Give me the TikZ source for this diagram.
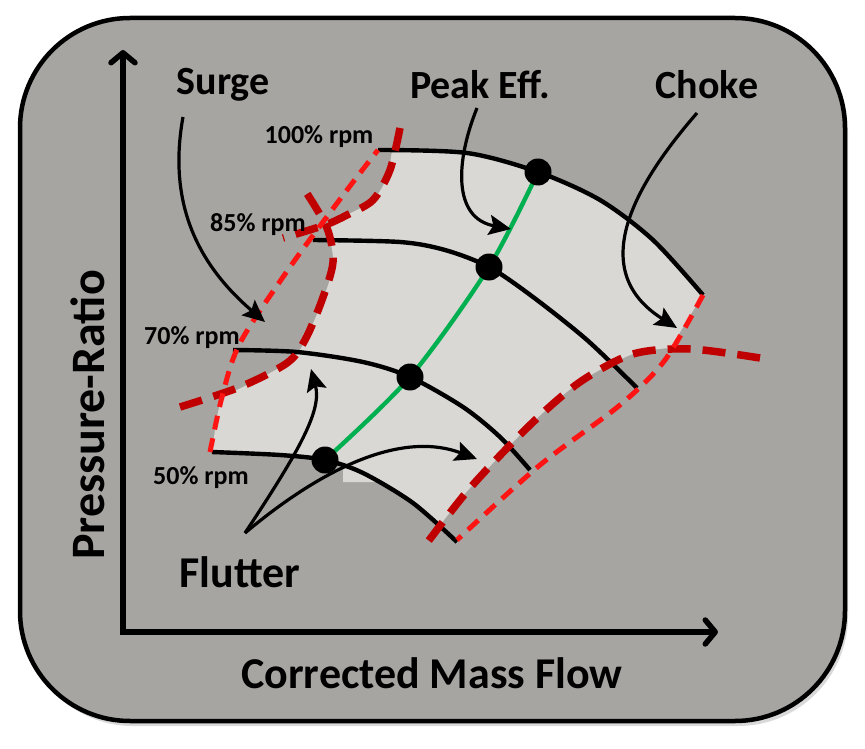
\documentclass[tikz,border=0pt]{standalone}
\usepackage{fontspec}
\setmainfont{Carlito}
\usetikzlibrary{arrows.meta}

\definecolor{mapgray}{RGB}{166,165,161}
\definecolor{zonegray}{RGB}{217,216,213}
\definecolor{surgered}{RGB}{255,20,20}
\definecolor{limitred}{RGB}{192,0,0}
\definecolor{effgreen}{RGB}{0,176,80}

\begin{document}
\begin{tikzpicture}[x=1pt, y=-1pt,
  rpmline/.style={line width=4.4pt},
  brightdash/.style={surgered, line width=5pt, dash pattern=on 14pt off 9pt},
  darkdash/.style={limitred, line width=7.5pt, dash pattern=on 23pt off 12pt},
  pointer/.style={line width=3.2pt, -{Stealth[length=22pt,width=20pt,inset=4pt]}},
  axisline/.style={line width=5.5pt, {Straight Barb[length=10pt,width=24pt,round]}-{Straight Barb[length=10pt,width=24pt,round]}},
  biglabel/.style={font=\fontsize{40}{40}\selectfont\bfseries},
  axislabel/.style={font=\fontsize{44}{44}\selectfont\bfseries},
  rpmlabel/.style={font=\fontsize{26}{26}\selectfont\bfseries},
  opdot/.style={circle, fill=black, inner sep=0pt, minimum size=27pt}]
  \useasboundingbox (0,0) rectangle (865,749);
  % frame
  \fill[black!15, rounded corners=110pt] (23,22) rectangle (848,726);
  \draw[line width=4.5pt, fill=mapgray, rounded corners=110pt] (20,18) rectangle (845,721);
  % stable zone
  \fill[zonegray] (392,150) -- plot[smooth] coordinates {(392,150) (467,153) (538,172) (600,200) (653,240) (703,295)}
    -- plot[smooth] coordinates {(703,295) (686,322) (671,348)}
    -- plot[smooth] coordinates {(671,348) (633,354) (580,382) (530,425) (470,488) (441,524)}
    -- (413,503) -- (378,482) -- (343,482) -- (343,467) -- (325,460)
    -- plot[smooth] coordinates {(325,460) (280,455) (212,452)}
    -- plot[smooth] coordinates {(212,452) (217,417) (222,397)}
    -- plot[smooth] coordinates {(222,397) (257,380) (287,363) (300,350) (320,307) (333,267) (330,240) (325,225)}
    -- plot[smooth] coordinates {(325,225) (347,215) (373,200) (387,177) (392,150)} -- cycle;
  % axes
  \coordinate (origin) at (123,632);
  \coordinate (ytop) at (123,50);
  \coordinate (xend) at (718,632);
  \draw[axisline] (ytop) -- (origin) -- (xend);
  % peak efficiency points
  \coordinate (e100) at (538,172);
  \coordinate (e85) at (489,267);
  \coordinate (e70) at (410,377);
  \coordinate (e50) at (325,460);
  % speed lines
  \draw[rpmline] plot[smooth] coordinates {(378,150) (467,153) (e100) (600,200) (653,240) (703,295)};
  \draw[rpmline] plot[smooth] coordinates {(313,240) (400,242) (445,250) (e85) (533,297) (587,340) (637,388)};
  \draw[rpmline] plot[smooth] coordinates {(233,350) (297,352) (363,362) (e70) (463,407) (500,437) (530,470)};
  \draw[rpmline] plot[smooth] coordinates {(212,452) (280,455) (e50) (363,473) (413,503) (457,542)};
  \draw[effgreen, line width=4.4pt] plot[smooth] coordinates {(e50) (e70) (e85) (e100)};
  % surge and choke limits
  \draw[darkdash] plot[smooth] coordinates {(180,407) (240,387) (287,363) (305,340) (322,300) (333,262) (327,228) (306,192)};
  \draw[darkdash] plot[smooth] coordinates {(400,128) (390,170) (373,200) (347,215) (325,225) (283,238)};
  \draw[darkdash] plot[smooth] coordinates {(760,358) (690,349) (633,354) (580,382) (530,425) (470,488) (427,543)};
  \draw[brightdash] plot[smooth] coordinates {(210,452) (222,397) (240,343) (290,267) (347,190) (378,150)};
  \draw[brightdash] plot[smooth] coordinates {(703,295) (665,360) (620,405) (540,465) (457,540)};
  \foreach \p in {100,85,70,50}
    \node[opdot] (d\p) at (e\p) {};
  % labels
  \node[biglabel] (surge) at (223,85) {Surge};
  \node[biglabel] (peak) at (480,85) {Peak Eff.};
  \node[biglabel] (choke) at (707,85) {Choke};
  \node[axislabel] (flutter) at (240,572) {Flutter};
  \node[axislabel] (xlabel) at (432,673) {Corrected Mass Flow};
  \node[axislabel, font=\fontsize{48}{48}\selectfont\bfseries, rotate=90] (ylabel) at (88,415) {Pressure-Ratio};
  \node[rpmlabel] (l100) at (319,137) {100\% rpm};
  \node[rpmlabel] (l85) at (258,225) {85\% rpm};
  \node[rpmlabel] (l70) at (192,338) {70\% rpm};
  \node[rpmlabel] (l50) at (201,478) {50\% rpm};
  % pointers
  \coordinate (surgetail) at (183,117);
  \coordinate (surgehead) at (265,322);
  \coordinate (peaktail) at (477,108);
  \coordinate (peakhead) at (511,229);
  \coordinate (choketail) at (697,113);
  \coordinate (chokehead) at (677,328);
  \coordinate (fluttertail) at (245,533);
  \coordinate (flutterup) at (311,369);
  \coordinate (flutterright) at (477,459);
  \draw[pointer] (surgetail) .. controls (168,200) and (195,262) .. (surgehead);
  \draw[pointer] (peaktail) .. controls (456,160) and (452,218) .. (peakhead);
  \draw[pointer] (choketail) .. controls (630,190) and (588,272) .. (chokehead);
  \draw[pointer] (fluttertail) .. controls (300,450) and (322,410) .. (flutterup);
  \draw[pointer] (fluttertail) .. controls (320,470) and (400,430) .. (flutterright);
\end{tikzpicture}
\end{document}
